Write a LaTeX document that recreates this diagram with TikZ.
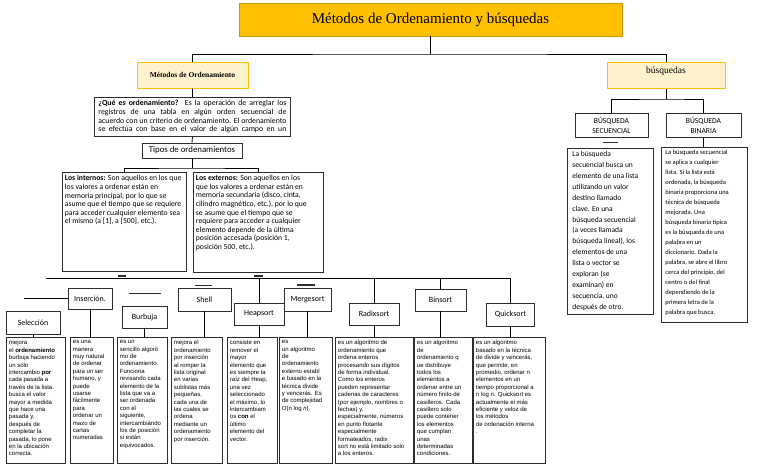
\documentclass[tikz,border=0pt]{standalone}
\usepackage{fontspec}
\setmainfont{Carlito}
\newfontfamily\serifont{Liberation Serif}
\newfontfamily\arialfont{Liberation Sans}
\usetikzlibrary{positioning}
\definecolor{gold}{RGB}{255,192,0}
\definecolor{golddark}{RGB}{200,150,0}
\definecolor{cream}{RGB}{255,242,204}
\definecolor{boxline}{RGB}{45,45,45}
\newcommand{\ptext}[3]{\parbox[t][#2][t]{#1}{\raggedright #3}}

\begin{document}
\begin{tikzpicture}[x=1pt,y=-1pt]
        \tikzstyle{mainbox}=[draw=golddark,fill=gold,line width=0.8pt,minimum width=383pt,minimum height=33pt,font=\serifont\fontsize{15}{18}\selectfont]
        \tikzstyle{topic}=[draw=gold,fill=cream,line width=1pt,minimum height=26pt]
        \tikzstyle{sortbox}=[draw=boxline,line width=0.9pt,inner sep=0pt,font=\fontsize{8}{9}\selectfont]
        \tikzstyle{notebox}=[draw=boxline,line width=0.9pt,anchor=north west,inner xsep=2.5pt,inner ysep=3pt]
        \tikzstyle{sortnote}=[notebox,font=\arialfont\fontsize{6}{7.4}\selectfont]
        \tikzstyle{link}=[draw,line width=0.8pt]
        \tikzstyle{stub}=[draw,line width=1.5pt,boxline]
        \useasboundingbox (0,0) rectangle (768,466);
        % top of the map
        \node [mainbox] (titulo) at (430.5,19.5) {Métodos de Ordenamiento y búsquedas};
        \node [topic,minimum width=111pt,font=\serifont\bfseries\fontsize{7.5}{9}\selectfont] (metodos) at (192.5,75) {Métodos de Ordenamiento};
        \node [topic,minimum width=118pt,text depth=9pt,font=\serifont\fontsize{9.5}{11}\selectfont] (busquedas) at (666,75) {búsquedas};
        \coordinate (cima) at (430.5,54);
        \path[link] (titulo) -- (cima);
        \path[link] (metodos.north) |- (cima) -| (busquedas.north);
        % ordenamiento
        \node [notebox,inner xsep=4pt,font=\fontsize{7.8}{8.6}\selectfont] (que) at (94,97) {\ptext{188pt}{33pt}{%
          \makebox[188pt][s]{\textbf{¿Qué es ordenamiento?} Es la operación de arreglar los}\\
          \makebox[188pt][s]{registros de una tabla en algún orden secuencial de}\\
          \makebox[188pt][s]{acuerdo con un criterio de ordenamiento. El ordenamiento}\\
          \makebox[188pt][s]{se efectúa con base en el valor de algún campo en un}}};
        \node [draw=boxline,line width=0.9pt,minimum width=100pt,minimum height=15pt,inner sep=0pt,font=\fontsize{8.8}{10}\selectfont] (tipos) at (192,150.5) {Tipos de ordenamientos};
        \node [notebox,font=\fontsize{7.7}{8.6}\selectfont] (internos) at (62,172) {\ptext{119pt}{93pt}{%
          \textbf{Los internos:} Son aquellos en los que\\ los valores a ordenar están en\\ memoria principal, por lo que se\\ asume que el tiempo que se requiere\\ para acceder cualquier elemento sea\\ el mismo (a [1], a [500], etc.).}};
        \node [notebox,font=\fontsize{7.7}{8.6}\selectfont] (externos) at (193,172) {\ptext{125pt}{94pt}{%
          \textbf{Los externos:} Son aquellos en los\\ que los valores a ordenar están en\\ memoria secundaria (disco, cinta,\\ cilindro magnético, etc.), por lo que\\ se asume que el tiempo que se\\ requiere para acceder a cualquier\\ elemento depende de la última\\ posición accesada (posición 1,\\ posición 500, etc.).}};
        \coordinate (ramal) at (192,168);
        \path[link] (metodos.south) -- (que.north);
        \path[link] (que.south) -- (tipos.north);
        \path[link] (tipos.south) -- (ramal);
        \path[link] (internos.north) |- (ramal) -| (externos.north);
        \path[stub] ([xshift=-6pt,yshift=-4pt]internos.south) -- ++(8,0);
        \path[stub] ([xshift=-4pt,yshift=-3pt]externos.south) -- ++(9,0);
        % metodos
        \node [sortbox,minimum width=54pt,minimum height=23pt] (seleccion) at (33,322.5) {Selección};
        \node [sortbox,minimum width=44pt,minimum height=21pt] (insercion) at (90,298.5) {Inserción.};
        \node [sortbox,minimum width=45pt,minimum height=22pt] (burbuja) at (144.5,317) {Burbuja};
        \node [sortbox,minimum width=53pt,minimum height=23pt] (shell) at (204.5,299.5) {Shell};
        \node [sortbox,minimum width=50pt,minimum height=22pt] (heapsort) at (259,314) {Heapsort};
        \node [sortbox,minimum width=47pt,minimum height=23pt] (mergesort) at (307.5,299.5) {Mergesort};
        \node [sortbox,minimum width=50pt,minimum height=22pt] (radixsort) at (374,314) {Radixsort};
        \node [sortbox,minimum width=51pt,minimum height=22pt] (binsort) at (440.5,300) {Binsort};
        \node [sortbox,minimum width=48pt,minimum height=23pt] (quicksort) at (510.5,314.5) {Quicksort};
        \coordinate (linea) at (46,278);
        \coordinate (cabo) at (24,298.5);
        \path[link] (linea) -| (quicksort.north);
        \path[link] (heapsort.north |- linea) -- (heapsort.north);
        \path[link] (radixsort.north |- linea) -- (radixsort.north);
        \path[link] (binsort.north |- linea) -- (binsort.north);
        \path[link] (cabo) -- (insercion.west);
        \path[stub,line width=1.2pt] ([xshift=-16pt,yshift=12pt]burbuja.north) -- ++(32,0);
        \path[stub,line width=1.2pt] ([xshift=-9.5pt,yshift=2pt]shell.north) -- ++(17,0);
        \path[stub,line width=1.2pt] ([xshift=-10.5pt,yshift=2.5pt]mergesort.north) -- ++(18,0);
        % descripciones
        \node [sortnote] (seltext) at (6,337) {\ptext{54pt}{120pt}{mejora\\ el \textbf{ordenamiento}\\ burbuja haciendo\\ un sólo\\ intercambio \textbf{por}\\ cada pasada a\\ través de la lista.\\ busca el valor\\ mayor a medida\\ que hace una\\ pasada y,\\ después de\\ completar la\\ pasada, lo pone\\ en la ubicación\\ correcta.}};
        \node [sortnote] (instext) at (70,337) {\ptext{38pt}{120pt}{es una\\ manera\\ muy natural\\ de ordenar\\ para un ser\\ humano, y\\ puede\\ usarse\\ fácilmente\\ para\\ ordenar un\\ mazo de\\ cartas\\ numeradas}};
        \node [sortnote] (burtext) at (117,337) {\ptext{45pt}{120pt}{es un\\ sencillo algorit\\ mo de\\ ordenamiento.\\ Funciona\\ revisando cada\\ elemento de la\\ lista que va a\\ ser ordenada\\ con el\\ siguiente,\\ intercambiándo\\ los de posición\\ si están\\ equivocados.}};
        \node [sortnote] (shetext) at (171,337) {\ptext{46pt}{120pt}{mejora el\\ ordenamiento\\ por inserción\\ al romper la\\ lista original\\ en varias\\ sublistas más\\ pequeñas,\\ cada una de\\ las cuales se\\ ordena\\ mediante un\\ ordenamiento\\ por inserción.}};
        \node [sortnote] (heatext) at (227,337) {\ptext{45pt}{120pt}{consiste en\\ remover el\\ mayor\\ elemento que\\ es siempre la\\ raíz del Heap,\\ una vez\\ seleccionado\\ el máximo, lo\\ intercambiam\\ os \textbf{con} el\\ último\\ elemento del\\ vector.}};
        \node [sortnote] (mertext) at (279,337) {\ptext{48pt}{120pt}{es\\ un algoritmo\\ de\\ ordenamiento\\ externo establ\\ e basado en la\\ técnica divide\\ y vencerás. Es\\ de complejidad\\ O(n log \textit{n}).}};
        \node [sortnote] (radtext) at (335,337) {\ptext{73pt}{120pt}{es un algoritmo de\\ ordenamiento que\\ ordena enteros\\ procesando sus dígitos\\ de forma individual.\\ Como los enteros\\ pueden representar\\ cadenas de caracteres\\ (por ejemplo, nombres o\\ fechas) y,\\ especialmente, números\\ en punto flotante\\ especialmente\\ formateados, radix\\ sort no está limitado solo\\ a los enteros.}};
        \node [sortnote] (bintext) at (414,337) {\ptext{53pt}{120pt}{es un algoritmo\\ de\\ ordenamiento q\\ ue distribuye\\ todos los\\ elementos a\\ ordenar entre un\\ número finito de\\ casilleros. Cada\\ casillero solo\\ puede contener\\ los elementos\\ que cumplan\\ unas\\ determinadas\\ condiciones.}};
        \node [sortnote] (quitext) at (473,337) {\ptext{67pt}{120pt}{es un algoritmo\\ basado en la técnica\\ de divide y vencerás,\\ que permite, en\\ promedio, ordenar n\\ elementos en un\\ tiempo proporcional a\\ n log n. Quicksort es\\ actualmente el más\\ eficiente y veloz de\\ los métodos\\ de ordenación interna\\ .}};
        \foreach \m/\t in {seleccion/seltext,insercion/instext,burbuja/burtext,shell/shetext,heapsort/heatext,mergesort/mertext,radixsort/radtext,binsort/bintext,quicksort/quitext}
          \path[link] (\m.south) -- (\m.south |- \t.north);
        % busquedas
        \node [sortbox,minimum width=73pt,minimum height=24pt,align=center,font=\fontsize{7.6}{10}\selectfont] (secuencial) at (611.5,125) {BÚSQUEDA\\SECUENCIAL};
        \node [sortbox,minimum width=75pt,minimum height=24pt,align=center,font=\fontsize{7.6}{10}\selectfont] (binaria) at (703.5,125) {BÚSQUEDA\\BINARIA};
        \node [notebox,inner xsep=5pt,font=\fontsize{7.5}{10.9}\selectfont] (sectext) at (567,148) {\ptext{76pt}{160pt}{La búsqueda\\ secuencial busca un\\ elemento de una lista\\ utilizando un valor\\ destino llamado\\ clave. En una\\ búsqueda secuencial\\ (a veces llamada\\ búsqueda lineal), los\\ elementos de una\\ lista o vector se\\ exploran (se\\ examinan) en\\ secuencia, uno\\ después de otro.}};
        \node [notebox,inner xsep=4pt,font=\fontsize{6.5}{10}\selectfont] (bintext2) at (661,147) {\ptext{78pt}{169pt}{La búsqueda secuencial\\ se aplica a cualquier\\ lista. Si la lista está\\ ordenada, la búsqueda\\ binaria proporciona una\\ técnica de búsqueda\\ mejorada. Una\\ búsqueda binaria típica\\ es la búsqueda de una\\ palabra en un\\ diccionario. Dada la\\ palabra, se abre el libro\\ cerca del principio, del\\ centro o del final\\ dependiendo de la\\ primera letra de la\\ palabra que busca.}};
        \coordinate (bramal) at (666,99);
        \path[link] (busquedas.south) -- (bramal);
        \path[link] (secuencial.north) |- (bramal) -| (binaria.north);
        \path[link] (binaria.south) -- (binaria.south |- bintext2.north);
        \path[stub] ([xshift=-8.5pt,yshift=-5pt]secuencial.south) -- ++(15,0);
\end{tikzpicture}
\end{document}
